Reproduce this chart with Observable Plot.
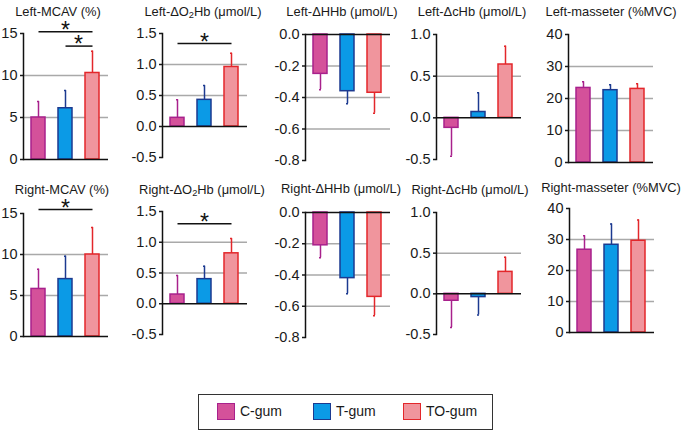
<!DOCTYPE html>
<html><head><meta charset="utf-8">
<script src="https://cdn.jsdelivr.net/npm/d3@7"></script>
<script src="https://cdn.jsdelivr.net/npm/@observablehq/plot@0.6"></script>
<style>
body{margin:0;background:#fff;}
#chart{position:relative;width:685px;height:434px;overflow:hidden;font-family:"Liberation Sans",Arial,sans-serif;color:#1a1a1a;background:#fff;}
.title{position:absolute;font-size:12.9px;white-space:nowrap;transform:translate(-50%,-50%);line-height:1;}
.title sub{font-size:0.72em;vertical-align:-0.3em;line-height:0;}
.legend{position:absolute;left:198px;top:394px;width:295px;height:36px;border:1px solid #333;box-sizing:border-box;}
.item{position:absolute;top:7px;display:flex;align-items:center;font-size:14px;height:18px;}
.sw{width:18px;height:17px;box-sizing:border-box;border:1.5px solid;margin-right:5px;}
svg.panel{position:absolute;}
</style></head><body><div id="chart"></div>
<script>
// ---- data ----
const groups = ["C-gum", "T-gum", "TO-gum"];
const fillColors = ["#d4519a", "#0b9ae6", "#f0959d"];
const strokeColors = ["#a8218c", "#1c3a90", "#e3272b"];

const panelTitles = [
  "Left-MCAV (%)", "Left-ΔO<sub>2</sub>Hb (μmol/L)", "Left-ΔHHb (μmol/L)", "Left-ΔcHb (μmol/L)", "Left-masseter (%MVC)",
  "Right-MCAV (%)", "Right-ΔO<sub>2</sub>Hb (μmol/L)", "Right-ΔHHb (μmol/L)", "Right-ΔcHb (μmol/L)", "Right-masseter (%MVC)"
];

// mean values per panel (C-gum, T-gum, TO-gum)
const leftMCAV = [5.0, 6.1, 10.3];
const leftO2Hb = [0.14, 0.43, 0.96];
const leftHHb = [-0.25, -0.36, -0.37];
const leftCHb = [-0.12, 0.07, 0.64];
const leftMasseter = [23.3, 22.6, 23.0];
const rightMCAV = [5.8, 7.0, 10.0];
const rightO2Hb = [0.15, 0.40, 0.82];
const rightHHb = [-0.21, -0.42, -0.54];
const rightCHb = [-0.085, -0.04, 0.27];
const rightMasseter = [26.7, 28.3, 29.6];

// error bar length (SD), drawn away from zero
const leftMCAVErr = [1.9, 2.1, 2.6];
const leftO2HbErr = [0.29, 0.23, 0.22];
const leftHHbErr = [0.10, 0.08, 0.13];
const leftCHbErr = [0.34, 0.23, 0.22];
const leftMasseterErr = [1.9, 1.7, 1.6];
const rightMCAVErr = [2.4, 2.8, 3.3];
const rightO2HbErr = [0.31, 0.21, 0.24];
const rightHHbErr = [0.08, 0.10, 0.12];
const rightCHbErr = [0.33, 0.22, 0.18];
const rightMasseterErr = [4.5, 6.7, 6.7];

const meanValues = [leftMCAV, leftO2Hb, leftHHb, leftCHb, leftMasseter, rightMCAV, rightO2Hb, rightHHb, rightCHb, rightMasseter];
const errValues = [leftMCAVErr, leftO2HbErr, leftHHbErr, leftCHbErr, leftMasseterErr, rightMCAVErr, rightO2HbErr, rightHHbErr, rightCHbErr, rightMasseterErr];

// y tick labels
const ticksMCAV = [0, 5, 10, 15];
const ticksO2Hb = [-0.5, 0, 0.5, 1.0, 1.5];
const ticksHHb = [-0.8, -0.6, -0.4, -0.2, 0];
const ticksCHb = [-0.5, 0, 0.5, 1.0];
const ticksMasseter = [0, 10, 20, 30, 40];
const yTicks = [ticksMCAV, ticksO2Hb, ticksHHb, ticksCHb, ticksMasseter, ticksMCAV, ticksO2Hb, ticksHHb, ticksCHb, ticksMasseter];
const tickDecimals = [0, 1, 1, 1, 0, 0, 1, 1, 1, 0];

// significance brackets: panel, from, to, y
const sigPanel = [0, 0, 1, 5, 6];
const sigFrom = ["C-gum", "T-gum", "C-gum", "C-gum", "C-gum"];
const sigTo = ["TO-gum", "TO-gum", "TO-gum", "TO-gum", "TO-gum"];
const sigY = [15.2, 13.5, 1.34, 15.5, 1.30];

// ---- layout ----
const axisX = [23, 162, 305, 436, 568, 23, 162, 305, 436, 569];
const frameTop = [33, 33, 34, 34, 34, 213, 211, 212, 212, 208];
const frameBottom = [159, 157, 160, 159, 162, 336, 334, 337, 334, 332];
const titleX = [58, 203, 342, 472, 611, 62, 202, 341, 470, 611];
const titleY = [12, 12, 12, 12, 12, 190, 190, 189, 190, 188];

const chart = document.getElementById("chart");
const ml = 34, mr = 4, mt = 26, mb = 6, plotW = 85;

for (let i = 0; i < 10; i++) {
  const t = document.createElement("div");
  t.className = "title";
  t.innerHTML = panelTitles[i];
  t.style.left = titleX[i] + "px";
  t.style.top = titleY[i] + "px";
  chart.appendChild(t);

  const ticks = yTicks[i];
  const lo = d3.min(ticks), hi = d3.max(ticks);
  const grid = ticks.filter(v => v !== lo && v !== hi && v !== 0);
  const data = groups.map((g, j) => {
    const m = meanValues[i][j];
    return {group: g, j, mean: m, tip: m + (m < 0 ? -1 : 1) * errValues[i][j]};
  });
  const marks = [
    Plot.ruleY(grid, {stroke: "#a9a9a9", strokeWidth: 1.5})
  ];
  groups.forEach((g, j) => {
    const d = data.filter(r => r.group === g);
    marks.push(
      Plot.ruleX(d, {x: "group", y1: "mean", y2: "tip", stroke: strokeColors[j], strokeWidth: 1.5}),
      Plot.tickY(d, {x: "group", y: "tip", stroke: strokeColors[j], strokeWidth: 1.5, insetLeft: 6, insetRight: 6}),
      Plot.barY(d, {x: "group", y: "mean", fill: fillColors[j], stroke: strokeColors[j], strokeWidth: 1.5})
    );
  });
  marks.push(
    Plot.ruleY([0], {stroke: "#111", strokeWidth: 1.5}),
    Plot.frame({anchor: "left", stroke: "#111", strokeWidth: 1.5}),
    Plot.axisY({ticks, tickSize: 3, tickPadding: 3, strokeWidth: 1.5,
      tickFormat: d => d.toFixed(tickDecimals[i])})
  );
  const sigs = sigPanel.map((p, k) => ({p, from: sigFrom[k], to: sigTo[k], y: sigY[k]})).filter(s => s.p === i);
  if (sigs.length) {
    marks.push(
      Plot.link(sigs, {x1: "from", x2: "to", y1: "y", y2: "y", stroke: "#111", strokeWidth: 1.5}),
      Plot.text(sigs.filter(s => s.from === "C-gum"), {x: () => "T-gum", y: "y", text: () => "*", fontSize: 23, lineAnchor: "middle", dy: -1, fill: "#111"}),
      Plot.text(sigs.filter(s => s.from === "T-gum"), {x: () => "TO-gum", y: "y", text: () => "*", fontSize: 23, lineAnchor: "middle", dy: -1, dx: -14, fill: "#111"})
    );
  }
  const h = frameBottom[i] - frameTop[i];
  const svg = Plot.plot({
    width: ml + plotW + mr,
    height: mt + h + mb,
    marginLeft: ml, marginRight: mr, marginTop: mt, marginBottom: mb,
    style: {background: "transparent", overflow: "visible", fontFamily: "'Liberation Sans', Arial, sans-serif", color: "#1a1a1a"},
    x: {domain: groups, axis: null, paddingInner: 0.464, paddingOuter: 0.25},
    y: {domain: [lo, hi], axis: null},
    marks
  });
  svg.classList.add("panel");
  svg.style.left = (axisX[i] - ml) + "px";
  svg.style.top = (frameTop[i] - mt) + "px";
  svg.style.maxWidth = "none";
  // enlarge the axis tick labels (all texts except the asterisks)
  svg.querySelectorAll("text").forEach(tx => {
    if (tx.textContent.trim() !== "*") {
      tx.setAttribute("font-size", "14.5");
      tx.style.setProperty("font-size", "14.5px", "important");
    }
  });
  chart.appendChild(svg);
}

// legend
const legend = document.createElement("div");
legend.className = "legend";
const legendX = [18, 114, 204];
groups.forEach((g, j) => {
  const it = document.createElement("div");
  it.className = "item";
  it.style.left = legendX[j] + "px";
  const sw = document.createElement("div");
  sw.className = "sw";
  sw.style.background = fillColors[j];
  sw.style.borderColor = strokeColors[j];
  it.appendChild(sw);
  const lab = document.createElement("span");
  lab.textContent = g;
  it.appendChild(lab);
  legend.appendChild(it);
});
chart.appendChild(legend);
</script></body></html>
